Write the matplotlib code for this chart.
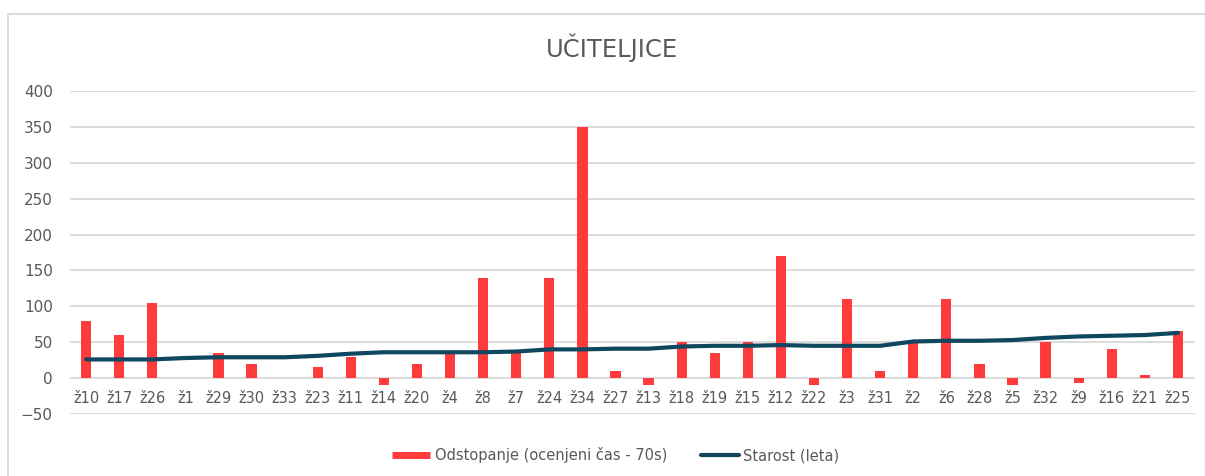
import matplotlib
matplotlib.use("Agg")
import matplotlib.pyplot as plt
from matplotlib.lines import Line2D
from matplotlib.patches import Rectangle

# Data
categories = ['ž10', 'ž17', 'ž26', 'ž1', 'ž29', 'ž30', 'ž33', 'ž23', 'ž11', 'ž14',
              'ž20', 'ž4', 'ž8', 'ž7', 'ž24', 'ž34', 'ž27', 'ž13', 'ž18', 'ž19',
              'ž15', 'ž12', 'ž22', 'ž3', 'ž31', 'ž2', 'ž6', 'ž28', 'ž5', 'ž32',
              'ž9', 'ž16', 'ž21', 'ž25']
odstopanje = [80, 60, 105, 0, 35, 20, 0, 15, 30, -10,
              20, 35, 140, 35, 140, 350, 10, -10, 50, 35,
              50, 170, -10, 110, 10, 50, 110, 20, -10, 50,
              -7, 40, 5, 65]
starost = [26, 26, 26, 28, 29, 29, 29, 31, 34, 36,
           36, 36, 36, 37, 40, 40, 41, 41, 44, 45,
           45, 46, 45, 45, 45, 51, 52, 52, 53, 56,
           58, 59, 60, 63]
y_ticks = [-50, 0, 50, 100, 150, 200, 250, 300, 350, 400]

BAR_COLOR = '#FF3B3B'
LINE_COLOR = '#0F4761'
GRID_COLOR = '#D9D9D9'
TEXT_COLOR = '#595959'

fig = plt.figure(figsize=(12.05, 4.76), dpi=100)
ax = fig.add_axes([0.0577, 0.1303, 0.9336, 0.6785])

x = list(range(len(categories)))
ax.bar(x, odstopanje, width=0.31, color=BAR_COLOR, zorder=2)
ax.plot(x, starost, color=LINE_COLOR, linewidth=3, solid_capstyle='round', zorder=3)

ax.set_xlim(-0.5, len(categories) - 0.5)
ax.set_ylim(-50, 400)
ax.set_yticks(y_ticks)
ax.set_xticks(x)
ax.set_xticklabels(categories)

for v in y_ticks:
    ax.axhline(v, color=GRID_COLOR, linewidth=1.3, zorder=1)

for s in ['top', 'right', 'left']:
    ax.spines[s].set_visible(False)
ax.spines['bottom'].set_position(('data', 0))
ax.spines['bottom'].set_visible(False)

ax.tick_params(axis='x', length=0, pad=9, labelsize=10.5, labelcolor=TEXT_COLOR)
ax.tick_params(axis='y', length=0, pad=12, labelsize=11, labelcolor=TEXT_COLOR)

fig.text(0.508, 0.899, 'UČITELJICE', ha='center', va='center',
         fontsize=17.5, color=TEXT_COLOR)

handles = [
    Line2D([0], [0], color=BAR_COLOR, linewidth=5, solid_capstyle='butt'),
    Line2D([0], [0], color=LINE_COLOR, linewidth=3, solid_capstyle='round'),
]
labels = ['Odstopanje (ocenjeni čas - 70s)', 'Starost (leta)']
fig.legend(handles, labels, loc='center', bbox_to_anchor=(0.511, 0.044),
           ncol=2, frameon=False, fontsize=10.5, labelcolor=TEXT_COLOR,
           handlelength=2.6, handletextpad=0.3, columnspacing=2.3)

# light chart-area border as in the reference
fig.patches.append(Rectangle((0.007, -0.1), 1.1, 0.1 + 0.9706, transform=fig.transFigure,
                             fill=False, edgecolor=GRID_COLOR, linewidth=1.3))

fig.savefig('out.png', dpi=100)
